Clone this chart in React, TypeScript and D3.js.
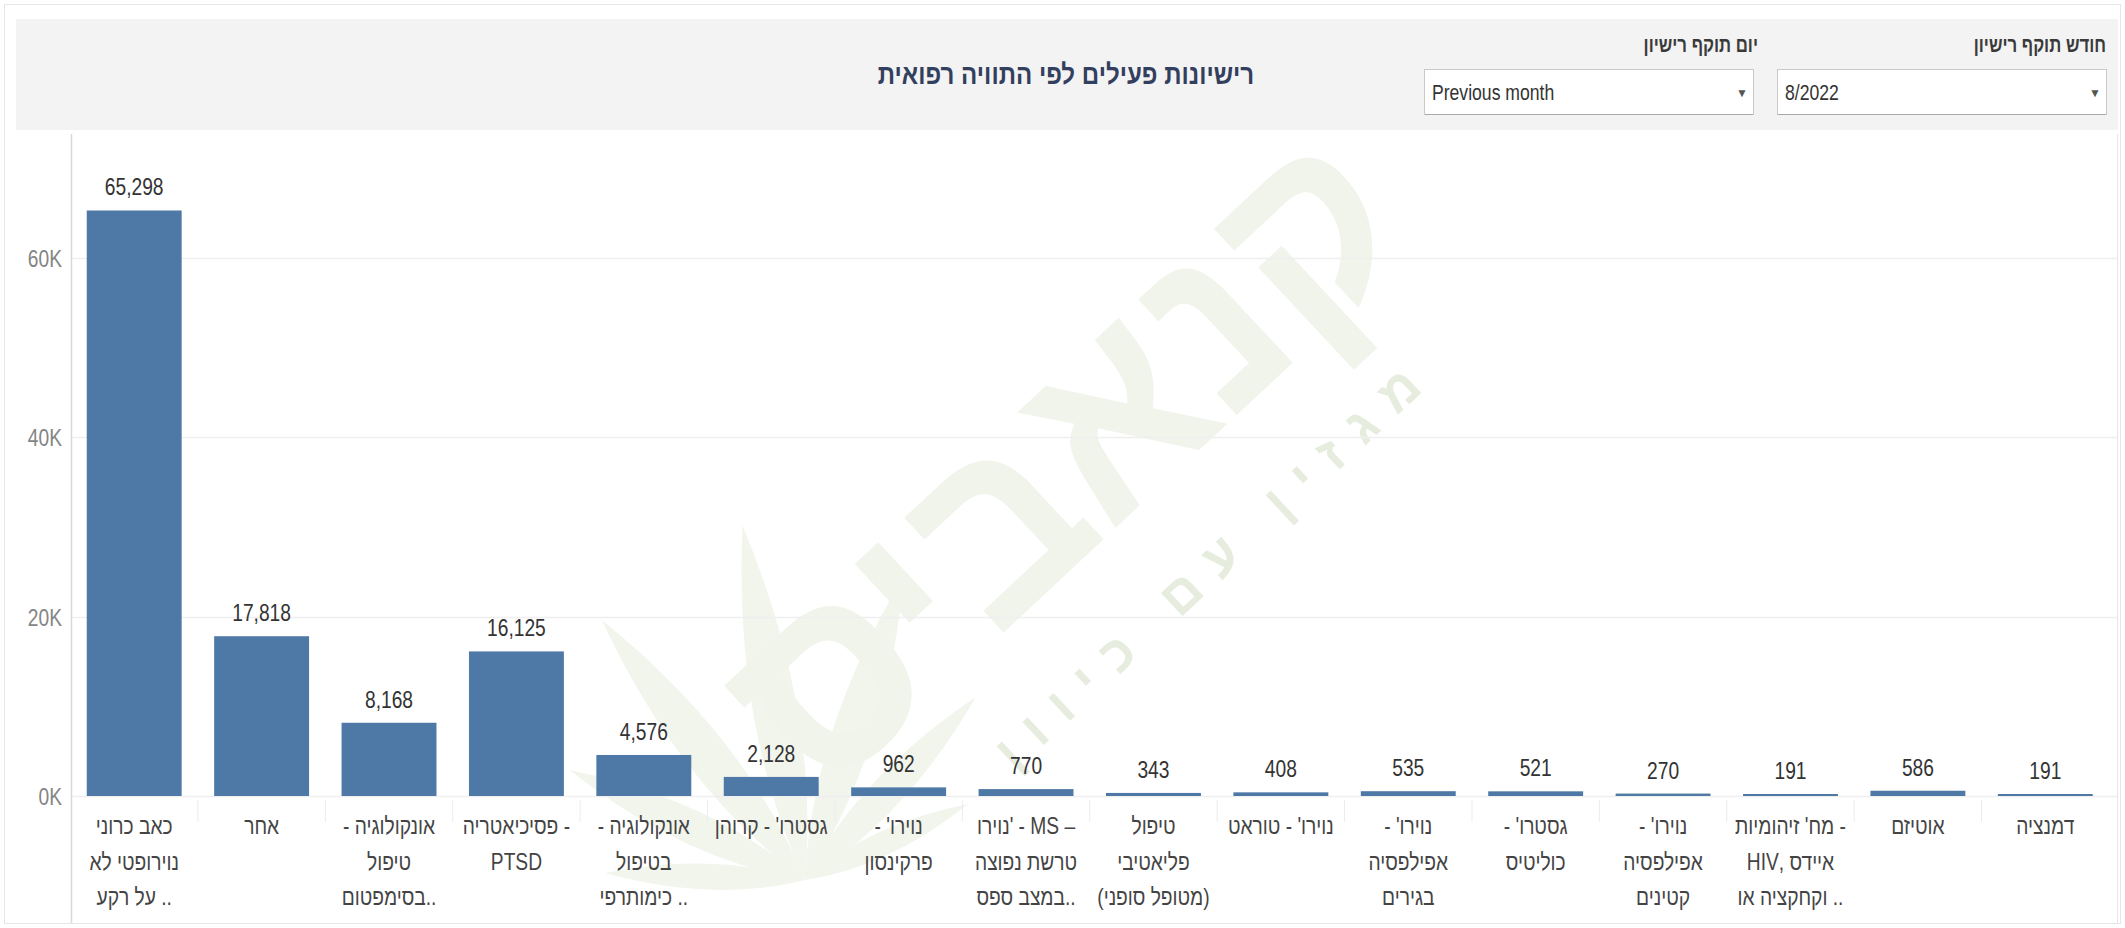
import React from "react";
import * as d3 from "d3";

const categoryLines: string[][] = [
  ["כאב כרוני", "נוירופטי לא", ".. על רקע"],
  ["אחר"],
  ["אונקולוגיה -", "טיפול", "..בסימפטום"],
  ["- פסיכיאטריה", "PTSD"],
  ["אונקולוגיה -", "בטיפול", ".. כימותרפי"],
  ["גסטרו' - קרוהן"],
  ["נוירו' -", "פרקינסון"],
  ["– MS - 'נוירו", "טרשת נפוצה", "..במצב ספס"],
  ["טיפול", "פליאטיבי", "(מטופל סופני)"],
  ["נוירו' - טוראט"],
  ["נוירו' -", "אפילפסיה", "בגירים"],
  ["גסטרו' -", "כוליטיס"],
  ["נוירו' -", "אפילפסיה", "קטינים"],
  ["- מח' זיהומיות", "איידס ,HIV", ".. וקחקציה או"],
  ["אוטיזם"],
  ["דמנציה"],
];

const values: number[] = [65298, 17818, 8168, 16125, 4576, 2128, 962, 770, 343, 408, 535, 521, 270, 191, 586, 191];

const yTicks: number[] = [0, 20000, 40000, 60000];

const titleText = "רישיונות פעילים לפי התוויה רפואית";
const filterLabels = ["חודש תוקף רישיון", "יום תוקף רישיון"];
const filterValues = ["8/2022", "Previous month"];

const FONT = "'Liberation Sans', Arial, 'DejaVu Sans', sans-serif";
const SX = 0.8;

function T(props: {
  x: number;
  y: number;
  text: string;
  size: number;
  fill: string;
  anchor?: "start" | "middle" | "end";
  weight?: string | number;
  sx?: number;
  dir?: "ltr" | "rtl";
}) {
  const { x, y, text, size, fill, anchor = "middle", weight = "normal", sx = SX, dir = "ltr" } = props;
  return (
    <g transform={`translate(${x},${y}) scale(${sx},1)`}>
      <text
        x={0}
        y={0}
        textAnchor={anchor}
        direction={dir}
        fontFamily={FONT}
        fontSize={size}
        fontWeight={weight}
        fill={fill}
      >
        {text}
      </text>
    </g>
  );
}

export default function App() {
  const W = 2125;
  const H = 928;
  const n = values.length;

  const x = d3
    .scaleBand<number>()
    .domain(d3.range(n))
    .range([70.5, 2109])
    .paddingInner(0.255)
    .paddingOuter(0.1275);

  const y = d3.scaleLinear().domain([0, 60000]).range([796, 258]);
  const fmt = d3.format(",");

  const leafBase = { x: 805, y: 880 };
  const leaflets = [
    { a: -178, l: 200, w: 26 },
    { a: -155, l: 260, w: 34 },
    { a: -128, l: 330, w: 42 },
    { a: -100, l: 360, w: 44 },
    { a: -72, l: 320, w: 40 },
    { a: -47, l: 250, w: 32 },
    { a: -25, l: 180, w: 24 },
  ];

  const filters = [
    { right: 2106, boxL: 1777, boxR: 2106 },
    { right: 1758, boxL: 1424, boxR: 1753 },
  ];

  return (
    <svg
      width={W}
      height={H}
      style={{ position: "fixed", left: 0, top: 0, background: "#ffffff" }}
    >
      <rect x={0} y={0} width={W} height={H} fill="#ffffff" />
      <rect x={4.5} y={4.5} width={2116} height={919} fill="none" stroke="#e6e6e6" />

      {/* watermark */}
      <g>
        {leaflets.map((lf, i) => (
          <path
            key={i}
            transform={`translate(${leafBase.x},${leafBase.y}) rotate(${lf.a})`}
            d={`M0,0 Q${lf.l * 0.45},${-lf.w} ${lf.l},0 Q${lf.l * 0.45},${lf.w} 0,0 Z`}
            fill="#f1f5ec"
          />
        ))}
        <g transform="translate(1075,470) rotate(-43)">
          <text
            x={0}
            y={70}
            textAnchor="middle"
            fontFamily={FONT}
            fontWeight="bold"
            fontSize={250}
            fill="#f0f4ea"
            textLength={820}
            lengthAdjust="spacingAndGlyphs"
          >
            קנאביס
          </text>
          <text
            x={30}
            y={180}
            textAnchor="middle"
            fontFamily={FONT}
            fontWeight="bold"
            fontSize={52}
            fill="#e6edde"
            textLength={560}
            lengthAdjust="spacing"
          >
            מגזין עם כיוון
          </text>
        </g>
      </g>

      {/* header */}
      <rect x={16} y={19} width={2102} height={111} fill="#f3f3f3" />
      <T x={1066} y={84} text={titleText} size={28} weight="bold" fill="#333f5e" sx={0.86} />

      {filters.map((f, i) => (
        <g key={i}>
          <T
            x={f.right}
            y={52}
            text={filterLabels[i]}
            size={21}
            weight="bold"
            fill="#3a3a3a"
            anchor="end"
            sx={0.8}
          />
          <rect
            x={f.boxL + 0.5}
            y={69.5}
            width={f.boxR - f.boxL}
            height={45}
            fill="#ffffff"
            stroke="#c9c9c9"
          />
          <line x1={f.boxL + 1} x2={f.boxR} y1={114.5} y2={114.5} stroke="#a9a9a9" />
          <T
            x={f.boxL + 8}
            y={100}
            text={filterValues[i]}
            size={22}
            fill="#333333"
            anchor="start"
            sx={0.8}
          />
          <text
            x={f.boxR - 11}
            y={97}
            textAnchor="middle"
            fontFamily={FONT}
            fontSize={12}
            fill="#555555"
          >
            ▼
          </text>
        </g>
      ))}

      {/* gridlines */}
      {yTicks.map((t) => (
        <line
          key={t}
          x1={71}
          x2={2117}
          y1={Math.round(y(t)) + 0.5}
          y2={Math.round(y(t)) + 0.5}
          stroke="#efefef"
          strokeWidth={1.5}
        />
      ))}

      {/* axes frame */}
      <line x1={71.5} x2={71.5} y1={134} y2={923} stroke="#d9d9d9" strokeWidth={1.5} />
      <line x1={2117.5} x2={2117.5} y1={134} y2={923} stroke="#e6e6e6" />

      {/* y tick labels */}
      {yTicks.map((t) => (
        <T
          key={t}
          x={62}
          y={y(t) + 9}
          text={`${t / 1000}K`}
          size={24}
          fill="#858585"
          anchor="end"
        />
      ))}

      {/* category separators */}
      {d3.range(1, n).map((i) => {
        const bx = (x(i) as number) - (x.step() * x.paddingInner()) / 2;
        return (
          <line key={i} x1={bx} x2={bx} y1={800} y2={822} stroke="#ececec" />
        );
      })}

      {/* bars */}
      {values.map((v, i) => {
        const top = y(v);
        const h = Math.max(2, y(0) - top);
        return (
          <rect
            key={i}
            x={x(i) as number}
            y={y(0) - h}
            width={x.bandwidth()}
            height={h}
            fill="#4e79a7"
          />
        );
      })}

      {/* value labels */}
      {values.map((v, i) => (
        <T
          key={i}
          x={(x(i) as number) + x.bandwidth() / 2}
          y={Math.min(y(v), y(0) - 2) - 15}
          text={fmt(v)}
          size={24}
          fill="#333333"
        />
      ))}

      {/* category labels */}
      {categoryLines.map((lines, i) =>
        lines.map((ln, j) => (
          <T
            key={`${i}-${j}`}
            x={(x(i) as number) + x.bandwidth() / 2}
            y={834 + j * 35.5}
            text={ln}
            size={24}
            fill="#444444"
            dir="rtl"
          />
        ))
      )}
    </svg>
  );
}
